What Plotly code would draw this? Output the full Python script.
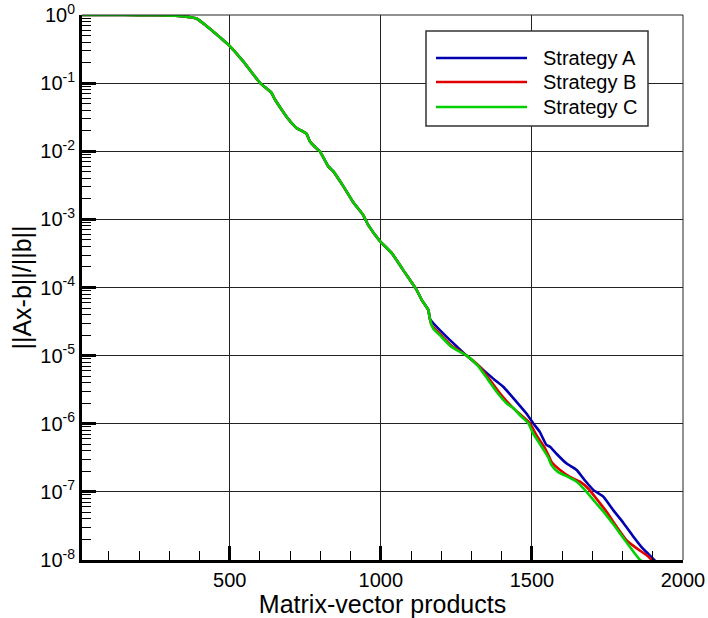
import plotly.graph_objects as go

# Residual history shared by all strategies up to ~1160 products
common_x = [11, 150, 257, 330, 368, 390, 423, 456, 500, 544, 599, 638, 649, 693, 721, 754,
            765, 787, 798, 826, 842, 875, 908, 941, 958, 997, 1036, 1074, 1118, 1135, 1157, 1162]
common_y = [1.0, 1.0, 0.99, 0.97, 0.93, 0.89, 0.69, 0.52, 0.35, 0.21, 0.102, 0.072, 0.058,
            0.030, 0.022, 0.018, 0.014, 0.011, 0.010, 6.0e-3, 5.1e-3, 3.1e-3, 1.8e-3, 1.17e-3,
            8.3e-4, 4.8e-4, 3.2e-4, 1.8e-4, 9.3e-5, 6.6e-5, 4.7e-5, 3.5e-5]

# Tails after the strategies diverge
a_x = [1168, 1217, 1250, 1284, 1328, 1377, 1405, 1449, 1482, 1504, 1526, 1548, 1560, 1582,
       1615, 1648, 1675, 1703, 1736, 1769, 1803, 1836, 1863, 1885, 1910]
a_y = [3.2e-5, 1.9e-5, 1.38e-5, 1.0e-5, 6.8e-6, 4.4e-6, 3.5e-6, 2.1e-6, 1.41e-6, 1.02e-6,
       7.6e-7, 4.9e-7, 4.6e-7, 3.6e-7, 2.6e-7, 2.1e-7, 1.48e-7, 1.07e-7, 8.5e-8, 5.4e-8,
       3.5e-8, 2.2e-8, 1.55e-8, 1.23e-8, 9.5e-9]

b_x = [1168, 1195, 1233, 1284, 1328, 1361, 1394, 1438, 1471, 1493, 1515, 1543, 1554, 1565,
       1593, 1626, 1659, 1686, 1714, 1747, 1780, 1813, 1847, 1880, 1902]
b_y = [2.8e-5, 2.1e-5, 1.41e-5, 1.0e-5, 6.8e-6, 4.4e-6, 2.8e-6, 1.7e-6, 1.26e-6, 1.02e-6,
       6.8e-7, 4.4e-7, 3.5e-7, 2.75e-7, 2.1e-7, 1.66e-7, 1.41e-7, 1.12e-7, 7.9e-8, 5.1e-8,
       3.1e-8, 1.95e-8, 1.48e-8, 1.17e-8, 9.5e-9]

c_x = [1173, 1195, 1233, 1284, 1320, 1355, 1383, 1416, 1438, 1466, 1488, 1504, 1532, 1554,
       1565, 1587, 1620, 1648, 1675, 1709, 1742, 1775, 1808, 1836, 1858, 1868]
c_y = [2.5e-5, 2.0e-5, 1.35e-5, 1.0e-5, 7.2e-6, 4.4e-6, 2.95e-6, 2.0e-6, 1.7e-6, 1.26e-6,
       1.02e-6, 7.2e-7, 4.6e-7, 3.2e-7, 2.45e-7, 1.95e-7, 1.66e-7, 1.41e-7, 1.07e-7, 7.1e-8,
       4.8e-8, 3.1e-8, 1.95e-8, 1.32e-8, 1.0e-8, 9.5e-9]

series_names = ["Strategy A", "Strategy B", "Strategy C"]
series_colors = ["#0000b0", "#e00000", "#00d000"]

x_ticks = [500, 1000, 1500, 2000]
y_exponents = [0, -1, -2, -3, -4, -5, -6, -7, -8]
y_ticks = [10.0 ** e for e in y_exponents]
y_labels = ["10<sup>%d</sup>" % e for e in y_exponents]
y_minor = [m * 10.0 ** e for e in range(-8, 0) for m in range(2, 10)]

FONT = "Liberation Sans, Arial, Helvetica, sans-serif"
W, H = 708, 618
ML, MR, MT, MB = 82, 25, 15, 58
PW, PH = W - ML - MR, H - MT - MB


def px_x(p):
    """pixel column -> paper x"""
    return (p - ML) / PW


def px_y(p):
    """pixel row -> paper y"""
    return 1 - (p - MT) / PH


fig = go.Figure()
tails = [(a_x, a_y), (b_x, b_y), (c_x, c_y)]
for name, color, (tx, ty) in zip(series_names, series_colors, tails):
    fig.add_trace(go.Scatter(
        x=common_x + tx, y=common_y + ty, mode="lines", name=name,
        line=dict(color=color, width=2.6, shape="spline", smoothing=0.5),
        showlegend=False,
    ))

fig.update_layout(
    width=W, height=H,
    margin=dict(l=ML, r=MR, t=MT, b=MB),
    paper_bgcolor="white", plot_bgcolor="white",
    font=dict(family=FONT, color="black", size=20),
    xaxis=dict(
        type="linear", range=[11, 2000], automargin=False,
        tickvals=x_ticks, ticktext=[str(v) for v in x_ticks],
        ticks="inside", ticklen=14, tickwidth=3, tickcolor="black",
        showline=True, linewidth=3, linecolor="black",
        showgrid=True, gridcolor="#222", gridwidth=1,
        zeroline=False,
        minor=dict(ticks="inside", ticklen=9, tickwidth=1, tickcolor="black",
                   tick0=0, dtick=100, showgrid=False),
        tickfont=dict(size=20),
        title=dict(text="Matrix-vector products", font=dict(size=25), standoff=4),
    ),
    yaxis=dict(
        type="log", range=[-8, 0], automargin=False,
        tickvals=y_ticks, ticktext=y_labels,
        ticks="inside", ticklen=14, tickwidth=3, tickcolor="black",
        showline=True, linewidth=3, linecolor="black",
        showgrid=True, gridcolor="#222", gridwidth=1,
        zeroline=False,
        minor=dict(ticks="inside", ticklen=9, tickwidth=1, tickcolor="black",
                   tickmode="array", tickvals=y_minor, showgrid=False),
        tickfont=dict(size=20),
        title=dict(text="||Ax-b||/||b||", font=dict(size=25), standoff=2),
    ),
    showlegend=False,
)

# thin frame along the top and right edges of the plot area
fig.add_shape(type="line", xref="paper", yref="paper", x0=0, x1=1, y0=1, y1=1,
              line=dict(color="#222", width=1))
fig.add_shape(type="line", xref="paper", yref="paper", x0=1, x1=1, y0=0, y1=1,
              line=dict(color="#222", width=1))

# legend box with long line samples
fig.add_shape(type="rect", xref="paper", yref="paper",
              x0=px_x(426), x1=px_x(648), y0=px_y(126), y1=px_y(31),
              fillcolor="white", line=dict(color="#333", width=1.5), layer="above")
row_y = [58, 82, 107]
for name, color, ry in zip(series_names, series_colors, row_y):
    fig.add_shape(type="line", xref="paper", yref="paper",
                  x0=px_x(436), x1=px_x(527), y0=px_y(ry), y1=px_y(ry),
                  line=dict(color=color, width=2.6), layer="above")
    fig.add_annotation(xref="paper", yref="paper", x=px_x(541), y=px_y(ry),
                       xanchor="left", yanchor="middle", text=name, showarrow=False,
                       font=dict(size=20, family=FONT, color="black"))

fig.write_html("out.html")
